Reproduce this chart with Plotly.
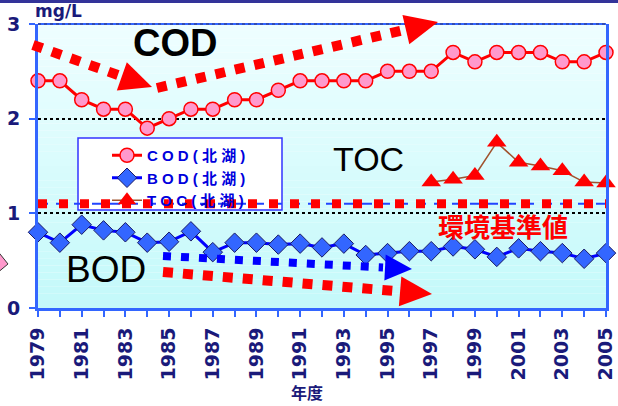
import math
import plotly.graph_objects as go

# ---------------- data ----------------
years = list(range(1979, 2006))
cod = [2.4, 2.4, 2.2, 2.1, 2.1, 1.9, 2.0, 2.1, 2.1, 2.2, 2.2, 2.3, 2.4, 2.4,
       2.4, 2.4, 2.5, 2.5, 2.5, 2.7, 2.6, 2.7, 2.7, 2.7, 2.6, 2.6, 2.7]
bod = [0.80, 0.69, 0.88, 0.82, 0.80, 0.69, 0.70, 0.81, 0.59, 0.69, 0.69, 0.67,
       0.68, 0.64, 0.68, 0.56, 0.58, 0.60, 0.60, 0.65, 0.62, 0.54, 0.63, 0.60,
       0.58, 0.52, 0.58]
toc_years = list(range(1997, 2006))
toc = [1.33, 1.36, 1.40, 1.75, 1.54, 1.50, 1.45, 1.33, 1.32]
standard = 1.1
y_ticks = [0, 1, 2, 3]
x_tick_labels = [str(y) if y % 2 == 1 else "" for y in years]

# ---------------- geometry helpers ----------------
W, H = 618, 406
L, R, T, B = 38, 12, 24, 98
PW, PH = W - L - R, H - T - B


def px(xp, yp):
    return (xp - L) / PW, (H - B - yp) / PH


NAVY = "#1a1a7a"
BLUE_AX = "#3366ff"

fig = go.Figure()

fig.add_trace(go.Scatter(
    x=years, y=cod, name="C O D ( 北 湖 )", mode="lines+markers",
    line=dict(color="#ff0000", width=3),
    marker=dict(symbol="circle", size=14, color="#ff99cc",
                line=dict(color="#ff0000", width=1.5)),
    cliponaxis=False))
fig.add_trace(go.Scatter(
    x=years, y=bod, name="B O D ( 北 湖 )", mode="lines+markers",
    line=dict(color="#0000ff", width=3),
    marker=dict(symbol="diamond", size=15, color="#3366ff",
                line=dict(color="#1a1a66", width=1)),
    cliponaxis=False))
fig.add_trace(go.Scatter(
    x=toc_years, y=toc, name="T O C ( 北 湖 )", mode="lines+markers",
    line=dict(color="#a0522d", width=1.5),
    marker=dict(symbol="triangle-up", size=17, color="#ff0000",
                line=dict(color="#ff0000", width=0)),
    cliponaxis=False))

shapes = []

# plot background gradient (stripes)
n = 40
top_c = (238, 254, 255)
bot_c = (196, 249, 250)
for i in range(n):
    f = i / (n - 1)
    c = tuple(int(round(top_c[k] + (bot_c[k] - top_c[k]) * f)) for k in range(3))
    shapes.append(dict(type="rect", xref="paper", yref="paper",
                       x0=0, x1=1, y0=1 - (i + 1) / n, y1=1 - i / n,
                       fillcolor="rgb(%d,%d,%d)" % c, line=dict(width=0),
                       layer="below"))

# top dark bar of the slide
bx0, by0 = px(0, 0)
bx1, by1 = px(W, 3)
shapes.append(dict(type="rect", xref="paper", yref="paper",
                   x0=bx0, x1=bx1, y0=by1, y1=by0,
                   fillcolor="#333399", line=dict(width=0), layer="above"))

# pink shape at left edge
p1, p2, p3 = px(-4, 249), px(8, 264), px(-4, 274)
shapes.append(dict(type="path", xref="paper", yref="paper",
                   path="M %f %f L %f %f L %f %f Z" % (p1 + p2 + p3),
                   fillcolor="#ff99cc", line=dict(color="#333333", width=1),
                   layer="above"))

# legend box
lx0, ly0 = px(78, 138)
lx1, ly1 = px(282, 210)
shapes.append(dict(type="rect", xref="paper", yref="paper",
                   x0=lx0, x1=lx1, y0=ly1, y1=ly0,
                   fillcolor="white", line=dict(color="#3333ff", width=1.5),
                   layer="above"))

# top border line
shapes.append(dict(type="line", xref="paper", yref="paper",
                   x0=0, x1=1, y0=1, y1=1,
                   line=dict(color=BLUE_AX, width=2), layer="above"))
shapes.append(dict(type="line", xref="paper", yref="paper",
                   x0=0, x1=1, y0=1, y1=1,
                   line=dict(color="#333366", width=1, dash="3px,3px"), layer="above"))

# environmental standard lines
shapes.append(dict(type="line", xref="x", yref="y",
                   x0=years[0], x1=years[-1], y0=standard, y1=standard,
                   line=dict(color="#2244ff", width=2, dash="10px,8px"),
                   layer="above"))
shapes.append(dict(type="line", xref="x", yref="y",
                   x0=years[0], x1=years[-1], y0=standard, y1=standard,
                   line=dict(color="#ff0000", width=9, dash="9px,12px"),
                   layer="above"))


def dotted_arrow(x0, y0, xt, yt, head_len, half_w, color, width, dash):
    dx, dy = xt - x0, yt - y0
    d = math.hypot(dx, dy)
    ux, uy = dx / d, dy / d
    bxp, byp = xt - ux * head_len, yt - uy * head_len
    ex, ey = xt - ux * (head_len + 2), yt - uy * (head_len + 2)
    nx, ny = -uy, ux
    a = px(x0, y0)
    e = px(ex, ey)
    shapes.append(dict(type="line", xref="paper", yref="paper",
                       x0=a[0], y0=a[1], x1=e[0], y1=e[1],
                       line=dict(color=color, width=width, dash=dash),
                       layer="above"))
    t = px(xt, yt)
    b1 = px(bxp + nx * half_w, byp + ny * half_w)
    b2 = px(bxp - nx * half_w, byp - ny * half_w)
    shapes.append(dict(type="path", xref="paper", yref="paper",
                       path="M %f %f L %f %f L %f %f Z" % (t + b1 + b2),
                       fillcolor=color, line=dict(width=0), layer="above"))


dotted_arrow(33, 45, 152, 87, 32, 15, "#ff0000", 10, "10px,10px")
dotted_arrow(157, 88, 438, 22, 33, 15, "#ff0000", 10, "10px,10px")
dotted_arrow(163, 256, 412, 269, 27, 13, "#0000ff", 8, "8px,10px")
dotted_arrow(163, 272, 432, 294, 32, 15, "#ff0000", 10, "10px,10px")

annotations = []


def text(xp, yp, s, size, color, family="Liberation Sans", bold=False):
    x, y = px(xp, yp)
    annotations.append(dict(x=x, y=y, xref="paper", yref="paper", text=s,
                            showarrow=False, xanchor="center", yanchor="middle",
                            font=dict(size=size, color=color, family=family,
                                      weight="bold" if bold else "normal")))


text(175, 43, "COD", 38, "#000000", bold=True)
text(368, 159, "TOC", 34, "#000000")
text(106, 269, "BOD", 37, "#000000")
text(503, 225, "環境基準値", 26, "#ff0000", family="Noto Sans CJK JP", bold=True)
text(58, 11, "mg/L", 17, NAVY, family="DejaVu Sans", bold=True)
text(307, 392, "年度", 16, NAVY, family="Noto Sans CJK JP", bold=True)

lgx, lgy = px(107, 139)

fig.update_layout(
    width=W, height=H,
    margin=dict(l=L, r=R, t=T, b=B, pad=0, autoexpand=False),
    paper_bgcolor="white",
    plot_bgcolor="rgba(0,0,0,0)",
    shapes=shapes,
    annotations=annotations,
    showlegend=True,
    legend=dict(x=lgx, y=lgy, xanchor="left", yanchor="top",
                bgcolor="rgba(0,0,0,0)", borderwidth=0,
                font=dict(family="Liberation Sans, Noto Sans CJK JP", size=15,
                          color="#0000dd", weight="bold"),
                tracegroupgap=0),
    xaxis=dict(range=[years[0], years[-1]], tickmode="array",
               tickvals=years, ticktext=x_tick_labels, tickangle=-90,
               ticks="outside", ticklen=6, tickwidth=2, tickcolor=BLUE_AX,
               showline=True, linecolor=BLUE_AX, linewidth=3, mirror=False,
               showgrid=False, zeroline=False, automargin=False,
               ticklabelstandoff=3,
               tickfont=dict(family="DejaVu Sans", size=19, color=NAVY,
                             weight="bold")),
    yaxis=dict(range=[0, 3], tickmode="array", tickvals=y_ticks,
               ticks="outside", ticklen=6, tickwidth=2, tickcolor=BLUE_AX,
               showline=True, linecolor=BLUE_AX, linewidth=3, mirror=True,
               showgrid=True, gridcolor="#000000", griddash="dot",
               gridwidth=1.5, zeroline=False, automargin=False,
               ticklabelstandoff=5,
               tickfont=dict(family="DejaVu Sans", size=19, color=NAVY,
                             weight="bold")),
)

fig.write_html("out.html", config={"displayModeBar": False},
               post_script="document.body.style.margin='0px';"
                           "document.body.style.overflow='hidden';")
